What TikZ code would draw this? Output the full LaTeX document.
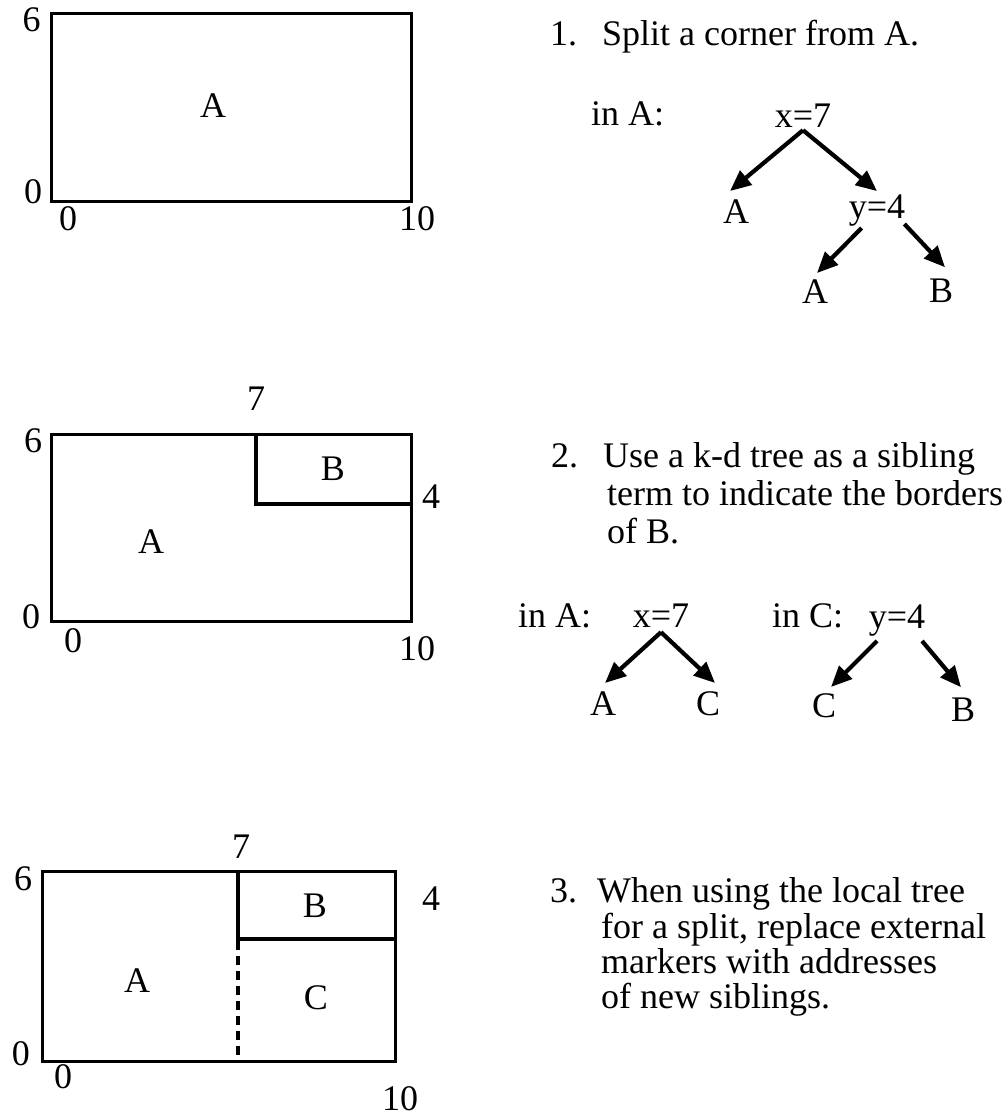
\documentclass[tikz,border=0pt]{standalone}
\usepackage{fontspec}
\setmainfont{Liberation Serif}
\usetikzlibrary{arrows.meta,calc}
\tikzset{
  lbl/.style={font=\fontsize{36}{43}\selectfont, inner sep=0pt, anchor=base},
  txt/.style={font=\fontsize{36}{43}\selectfont, inner sep=0pt, anchor=base west},
  frame/.style={line width=3pt, line join=miter},
  inner/.style={line width=3.5pt},
  dashline/.style={line width=3.8pt, dash pattern=on 9pt off 6pt},
  arr/.style={line width=4.2pt, -{Triangle[length=21pt,width=18pt]}}
}
\begin{document}
\begin{tikzpicture}[x=1pt,y=-1pt]
\useasboundingbox (0,0) rectangle (1008,1116);

% ---------- Panel 1 ----------
\draw[frame] (51.7,14) rectangle (411,201);
\node[lbl] (p1six) at (31.5,32) {6};
\node[lbl] (p1zl) at (33,203) {0};
\node[lbl] (p1zb) at (68,230) {0};
\node[lbl] (p1ten) at (417,230) {10};
\node[lbl] (p1A) at (213,117) {A};

\node[txt] (t1n) at (550,46) {1.};
\node[txt] (t1) at (602,46) {Split a corner from A.};

\node[txt] (inA1) at (591,125) {in A:};
\node[lbl] (x7a) at (803,127) {x=7};
\node[lbl] (a1) at (736,223) {A};
\node[lbl] (y4a) at (877,218) {y=4};
\node[lbl] (a2) at (815,303) {A};
\node[lbl] (b1) at (941,302) {B};
\draw[arr] ($(x7a.south)+(0,3)$) -- ($(a1.north)+(-6,-8)$);
\draw[arr] ($(x7a.south)+(0,3)$) -- ($(y4a.north)+(0,-3)$);
\draw[arr] ($(y4a.south west)+(13,2)$) -- ($(a2.north)+(2,-6)$);
\draw[arr] ($(y4a.south east)+(-1,-2)$) -- ($(b1.north)+(4,-11)$);

% ---------- Panel 2 ----------
\draw[frame] (51.7,434) rectangle (411,621);
\draw[inner] (256,434) -- (256,504) -- (411,504);
\node[lbl] (p2seven) at (256,410) {7};
\node[lbl] (p2six) at (33,452) {6};
\node[lbl] (p2B) at (333,480) {B};
\node[lbl] (p2four) at (431,508) {4};
\node[lbl] (p2A) at (151,553) {A};
\node[lbl] (p2zl) at (31,628) {0};
\node[lbl] (p2zb) at (73,652) {0};
\node[lbl] (p2ten) at (417,660) {10};

\node[txt] (t2n) at (551,467) {2.};
\node[txt] (t2a) at (603,467) {Use a k-d tree as a sibling};
\node[txt] (t2b) at (607,505) {term to indicate the borders};
\node[txt] (t2c) at (607,543) {of B.};

\node[txt] (inA2) at (518,627) {in A:};
\node[lbl] (x7b) at (661,627) {x=7};
\node[lbl] (a3) at (603,715) {A};
\node[lbl] (c1) at (708,715) {C};
\draw[arr] ($(x7b.south)+(0,5)$) -- ($(a3.north)+(2,-8)$);
\draw[arr] ($(x7b.south)+(0,5)$) -- ($(c1.north)+(7,-8)$);

\node[txt] (inC) at (772,627) {in C:};
\node[lbl] (y4b) at (897,628) {y=4};
\node[lbl] (c2) at (824,717) {C};
\node[lbl] (b2) at (963,721) {B};
\draw[arr] ($(y4b.south)+(-20,5)$) -- ($(c2.north)+(7,-6)$);
\draw[arr] ($(y4b.south)+(25,5)$) -- ($(b2.north)+(-2,-10)$);

% ---------- Panel 3 ----------
\draw[frame] (42,871) rectangle (395,1061);
\draw[inner] (238,871) -- (238,939) -- (395,939);
\draw[dashline] (238,941) -- (238,1061);
\node[lbl] (p3seven) at (241,858) {7};
\node[lbl] (p3six) at (23,890) {6};
\node[lbl] (p3B) at (315,917) {B};
\node[lbl] (p3four) at (431,910) {4};
\node[lbl] (p3A) at (137,992) {A};
\node[lbl] (p3C) at (316,1009) {C};
\node[lbl] (p3zl) at (21,1065) {0};
\node[lbl] (p3zb) at (63,1088) {0};
\node[lbl] (p3ten) at (400,1110) {10};

\node[txt] (t3n) at (550,902) {3.};
\node[txt] (t3a) at (597,902) {When using the local tree};
\node[txt] (t3b) at (601,938) {for a split, replace external};
\node[txt] (t3c) at (601,973) {markers with addresses};
\node[txt] (t3d) at (601,1008) {of new siblings.};
\end{tikzpicture}
\end{document}
